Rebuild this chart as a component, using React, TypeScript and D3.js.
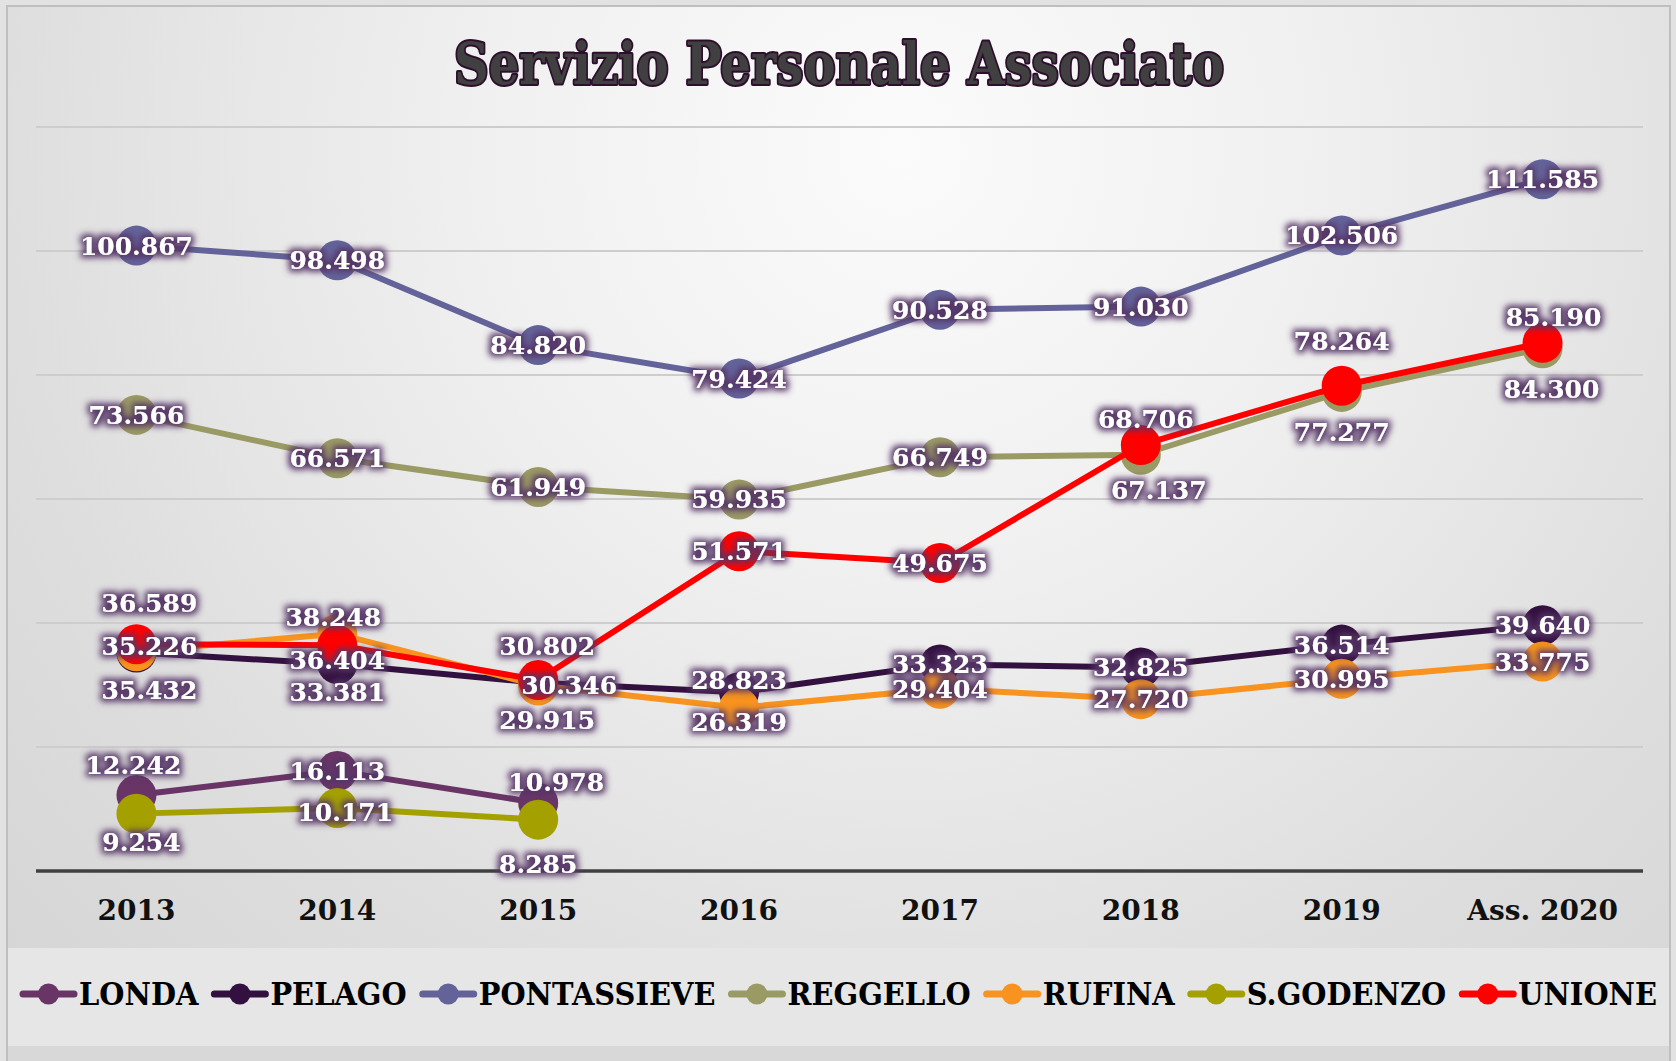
import React, { useEffect, useRef } from "react";
import * as d3 from "d3";

const categories = ["2013", "2014", "2015", "2016", "2017", "2018", "2019", "Ass. 2020"];

const londa = [12.242, 16.113, 10.978, null, null, null, null, null];
const pelago = [35.226, 33.381, 30.346, 28.823, 33.323, 32.825, 36.514, 39.64];
const pontassieve = [100.867, 98.498, 84.82, 79.424, 90.528, 91.03, 102.506, 111.585];
const reggello = [73.566, 66.571, 61.949, 59.935, 66.749, 67.137, 77.277, 84.3];
const rufina = [35.432, 38.248, 29.915, 26.319, 29.404, 27.72, 30.995, 33.775];
const sGodenzo = [9.254, 10.171, 8.285, null, null, null, null, null];
const unione = [36.589, 36.404, 30.802, 51.571, 49.675, 68.706, 78.264, 85.19];

const seriesNames = ["LONDA", "PELAGO", "PONTASSIEVE", "REGGELLO", "RUFINA", "S.GODENZO", "UNIONE"];
const seriesValues = [londa, pelago, pontassieve, reggello, rufina, sGodenzo, unione];
const seriesColors = ["#683566", "#32103f", "#63639a", "#9a9a64", "#f7931e", "#a3a000", "#ff0000"];

// label nudges (px), where Excel labels were dragged off the marker
const labelDx = [
  [-3, 0, 18, 0, 0, 0, 0, 0],
  [13, 0, 31, 0, 0, 0, 0, 0],
  [0, 0, 0, 0, 0, 0, 0, 0],
  [0, 0, 0, 0, 0, 18, 0, 9],
  [13, -4, 9, 0, 0, 0, 0, 0],
  [5, 8, 0, 0, 0, 0, 0, 0],
  [13, 0, 9, 0, 0, 5, 0, 11],
];
const labelDy = [
  [-30, 0, -21, 0, 0, 0, 0, 0],
  [-7, 28, 2, -12, 0, 0, 0, 0],
  [0, 0, 0, 0, 0, 0, 0, 0],
  [0, 0, 0, 0, 0, 35, 40, 41],
  [39, -17, 34, 14, 0, 0, 0, 0],
  [28, 4, 44, 0, 0, 0, 0, 0],
  [-41, 15, -34, 0, 0, -26, -45, -26],
];

const W = 1676;
const H = 1061;
const fmt = d3.format(".3f");

export default function App() {
  const svgRef = useRef(null);

  useEffect(() => {
    const svg = d3.select(svgRef.current);
    svg.selectAll("*").remove();

    const defs = svg.append("defs");
    const bg = defs
      .append("radialGradient")
      .attr("id", "bg")
      .attr("gradientUnits", "userSpaceOnUse")
      .attr("cx", 900)
      .attr("cy", 150)
      .attr("r", 1200);
    bg.append("stop").attr("offset", 0).attr("stop-color", "#fbfbfb");
    bg.append("stop").attr("offset", 0.35).attr("stop-color", "#f0f0f0");
    bg.append("stop").attr("offset", 0.75).attr("stop-color", "#dedede");
    bg.append("stop").attr("offset", 1).attr("stop-color", "#d6d6d6");

    const glow = defs
      .append("filter")
      .attr("id", "glow")
      .attr("x", "-20%")
      .attr("y", "-50%")
      .attr("width", "140%")
      .attr("height", "200%");
    glow.append("feMorphology").attr("in", "SourceAlpha").attr("operator", "dilate").attr("radius", 2.5).attr("result", "d");
    glow.append("feGaussianBlur").attr("in", "d").attr("stdDeviation", 3.2).attr("result", "b");
    glow.append("feFlood").attr("flood-color", "#553466").attr("flood-opacity", 0.95);
    glow.append("feComposite").attr("in2", "b").attr("operator", "in").attr("result", "g");
    const merge = glow.append("feMerge");
    merge.append("feMergeNode").attr("in", "g");
    merge.append("feMergeNode").attr("in", "SourceGraphic");

    // background
    svg.append("rect").attr("width", W).attr("height", H).attr("fill", "#e2e2e2");
    svg
      .append("rect")
      .attr("x", 7)
      .attr("y", 6)
      .attr("width", 1663)
      .attr("height", H)
      .attr("fill", "url(#bg)")
      .attr("stroke", "#bfbfbf")
      .attr("stroke-width", 2);
    svg.append("rect").attr("x", 8).attr("y", 948).attr("width", 1661).attr("height", 98).attr("fill", "#e6e6e6");
    svg.append("rect").attr("x", 8).attr("y", 1046).attr("width", 1661).attr("height", 15).attr("fill", "#d8d8d8");

    const x = d3.scaleBand().domain(categories).range([36, 1643]);
    const y = d3.scaleLinear().domain([0, 120]).range([871, 127]);
    const cx = (c) => x(c) + x.bandwidth() / 2;

    // gridlines
    svg
      .append("g")
      .selectAll("line")
      .data(y.ticks(6).filter((t) => t > 0))
      .join("line")
      .attr("x1", 36)
      .attr("x2", 1643)
      .attr("y1", (d) => y(d))
      .attr("y2", (d) => y(d))
      .attr("stroke", "#cdcdcd")
      .attr("stroke-width", 2);

    svg
      .append("line")
      .attr("x1", 36)
      .attr("x2", 1643)
      .attr("y1", y(0))
      .attr("y2", y(0))
      .attr("stroke", "#404040")
      .attr("stroke-width", 3.5);

    // x labels
    svg
      .append("g")
      .selectAll("text")
      .data(categories)
      .join("text")
      .attr("x", (d) => cx(d))
      .attr("y", 920)
      .attr("text-anchor", "middle")
      .attr("font-family", "'DejaVu Serif', serif")
      .attr("font-weight", "bold")
      .attr("font-size", 28)
      .attr("fill", "#111")
      .text((d) => d);

    // title
    svg
      .append("text")
      .attr("x", 839)
      .attr("y", 84)
      .attr("text-anchor", "middle")
      .attr("font-family", "'DejaVu Serif', serif")
      .attr("font-weight", "bold")
      .attr("font-size", 57)
      .attr("textLength", 770)
      .attr("lengthAdjust", "spacingAndGlyphs")
      .attr("fill", "#404040")
      .attr("stroke", "#2d0e2d")
      .attr("stroke-width", 4)
      .attr("paint-order", "stroke")
      .attr("stroke-linejoin", "round")
      .text("Servizio Personale Associato");

    const line = d3
      .line()
      .defined((d) => d != null)
      .x((d, i) => cx(categories[i]))
      .y((d) => y(d));

    seriesValues.forEach((vals, s) => {
      const g = svg.append("g");
      g.append("path")
        .datum(vals)
        .attr("d", line)
        .attr("fill", "none")
        .attr("stroke", seriesColors[s])
        .attr("stroke-width", 6)
        .attr("stroke-linejoin", "round");
      g.selectAll("circle")
        .data(vals.map((v, i) => ({ v, i })).filter((d) => d.v != null))
        .join("circle")
        .attr("cx", (d) => cx(categories[d.i]))
        .attr("cy", (d) => y(d.v))
        .attr("r", 20)
        .attr("fill", seriesColors[s]);
    });

    // data labels on top
    const labels = svg.append("g").attr("filter", "url(#glow)");
    seriesValues.forEach((vals, s) => {
      labels
        .selectAll(null)
        .data(vals.map((v, i) => ({ v, i })).filter((d) => d.v != null))
        .join("text")
        .attr("x", (d) => cx(categories[d.i]) + labelDx[s][d.i])
        .attr("y", (d) => y(d.v) + labelDy[s][d.i])
        .attr("dy", "0.36em")
        .attr("text-anchor", "middle")
        .attr("font-family", "'DejaVu Serif', serif")
        .attr("font-weight", "bold")
        .attr("font-size", 25)
        .attr("fill", "#ffffff")
        .text((d) => fmt(d.v));
    });

    // legend
    const lg = svg.append("g");
    const texts = seriesNames.map((n) =>
      lg
        .append("text")
        .attr("y", 1005)
        .attr("font-family", "'DejaVu Serif', serif")
        .attr("font-weight", "bold")
        .attr("font-size", 31)
        .attr("fill", "#000")
        .text(n)
    );
    const natural = texts.map((t) => t.node().getComputedTextLength());
    const k = 1146 / d3.sum(natural);
    let lx = 20;
    texts.forEach((t, s) => {
      const w = natural[s] * k;
      lg.append("line")
        .attr("x1", lx + 3)
        .attr("x2", lx + 54)
        .attr("y1", 994)
        .attr("y2", 994)
        .attr("stroke", seriesColors[s])
        .attr("stroke-width", 7)
        .attr("stroke-linecap", "round");
      lg.append("circle").attr("cx", lx + 28.5).attr("cy", 994).attr("r", 10.5).attr("fill", seriesColors[s]);
      t.attr("x", lx + 59).attr("textLength", w).attr("lengthAdjust", "spacingAndGlyphs");
      lx = lx + 59 + w + 13;
    });
  }, []);

  return (
    <svg
      ref={svgRef}
      width={W}
      height={H}
      style={{ position: "absolute", left: 0, top: 0, display: "block" }}
    />
  );
}
